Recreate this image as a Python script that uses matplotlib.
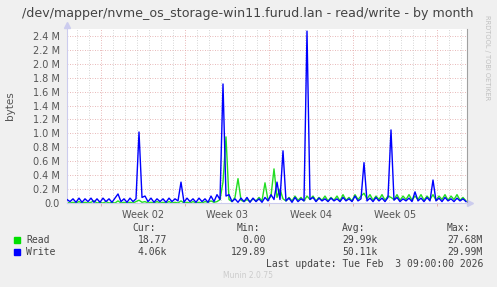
import matplotlib
matplotlib.use('Agg')
import matplotlib.pyplot as plt

# one sample every 6 hours, values in M bytes
step_h = 6
write_m = [0.05, 0.02, 0.06, 0.01, 0.07, 0.01, 0.06, 0.02, 0.07, 0.01,
           0.06, 0.01, 0.07, 0.02, 0.06, 0.01, 0.07, 0.13, 0.02, 0.06,
           0.01, 0.07, 0.02, 0.06, 1.02, 0.08, 0.10, 0.02, 0.07, 0.01,
           0.06, 0.02, 0.06, 0.01, 0.07, 0.02, 0.06, 0.03, 0.30, 0.01,
           0.07, 0.02, 0.06, 0.01, 0.07, 0.02, 0.06, 0.01, 0.10, 0.02,
           0.12, 0.05, 1.71, 0.10, 0.12, 0.02, 0.06, 0.01, 0.07, 0.02,
           0.08, 0.01, 0.07, 0.02, 0.06, 0.01, 0.08, 0.03, 0.12, 0.05,
           0.30, 0.05, 0.75, 0.03, 0.07, 0.01, 0.08, 0.02, 0.06, 0.03,
           2.47, 0.05, 0.08, 0.02, 0.07, 0.03, 0.06, 0.02, 0.07, 0.03,
           0.06, 0.02, 0.08, 0.03, 0.06, 0.02, 0.10, 0.03, 0.06, 0.58,
           0.03, 0.07, 0.02, 0.08, 0.03, 0.07, 0.02, 0.08, 1.05, 0.04,
           0.08, 0.02, 0.06, 0.03, 0.07, 0.02, 0.16, 0.03, 0.07, 0.02,
           0.08, 0.03, 0.33, 0.03, 0.07, 0.02, 0.08, 0.03, 0.06, 0.02,
           0.07, 0.03, 0.06, 0.02]
read_m = [0.01, 0.00, 0.01, 0.00, 0.02, 0.00, 0.01, 0.00, 0.01, 0.03,
          0.00, 0.01, 0.00, 0.02, 0.00, 0.01, 0.00, 0.03, 0.00, 0.01,
          0.00, 0.01, 0.00, 0.02, 0.04, 0.01, 0.02, 0.00, 0.01, 0.00,
          0.02, 0.00, 0.01, 0.00, 0.02, 0.00, 0.01, 0.00, 0.03, 0.00,
          0.01, 0.00, 0.02, 0.00, 0.01, 0.00, 0.02, 0.01, 0.03, 0.01,
          0.02, 0.05, 0.30, 0.95, 0.05, 0.02, 0.08, 0.35, 0.04, 0.02,
          0.05, 0.02, 0.06, 0.03, 0.08, 0.03, 0.29, 0.04, 0.10, 0.49,
          0.08, 0.20, 0.06, 0.03, 0.08, 0.03, 0.10, 0.04, 0.08, 0.03,
          0.10, 0.05, 0.10, 0.03, 0.08, 0.04, 0.10, 0.03, 0.08, 0.04,
          0.10, 0.03, 0.12, 0.04, 0.08, 0.03, 0.12, 0.05, 0.10, 0.14,
          0.06, 0.12, 0.04, 0.10, 0.05, 0.12, 0.04, 0.10, 0.08, 0.05,
          0.12, 0.04, 0.10, 0.05, 0.12, 0.04, 0.10, 0.05, 0.12, 0.04,
          0.10, 0.05, 0.12, 0.04, 0.10, 0.05, 0.12, 0.04, 0.10, 0.05,
          0.12, 0.04, 0.08, 0.03]
hours = [i * step_h for i in range(len(write_m))]

week_bounds = [68, 236, 404, 572, 740]
week_labels = ['Week 02', 'Week 03', 'Week 04', 'Week 05']
y_ticks = [0.0, 0.2, 0.4, 0.6, 0.8, 1.0, 1.2, 1.4, 1.6, 1.8, 2.0, 2.2, 2.4]

legend_rows = [('Read', '#00e000', '18.77', '0.00', '29.99k', '27.68M'),
               ('Write', '#0000ff', '4.06k', '129.89', '50.11k', '29.99M')]

W, H = 497, 287
fig = plt.figure(figsize=(W / 100, H / 100), dpi=100, facecolor='#f0f0f0')
ax = fig.add_axes([67 / W, 1 - 203 / H, 400 / W, 174 / H])
ax.set_facecolor('white')

def fx(x):
    return x / W

def fy(y):
    return 1 - y / H

ax.set_xlim(0, 800)
ax.set_ylim(0, 2.5)

# grid
day_lines = [h for h in range(20, 800, 24) if h not in week_bounds]
for d in day_lines:
    ax.axvline(d, color='#c8c8c8', lw=0.6, ls=(0, (1, 2)), zorder=0)
for w in week_bounds:
    ax.axvline(w, color='#e0a0a0', lw=0.6, ls=(0, (1, 2)), zorder=0)
for t in y_ticks[1:]:
    ax.axhline(t, color='#e0a0a0', lw=0.6, ls=(0, (1, 2)), zorder=0)

ax.plot(hours, read_m, color='#22dd22', lw=1.0, zorder=2)
ax.plot(hours, write_m, color='#0000ff', lw=1.0, zorder=3)

ax.set_yticks(y_ticks)
ax.set_yticklabels(['0.0'] + ['%.1f M' % t for t in y_ticks[1:]])
ax.set_xticks([(week_bounds[i] + week_bounds[i + 1]) / 2 for i in range(4)])
ax.set_xticklabels(week_labels)
ax.set_xticks(week_bounds, minor=True)
ax.tick_params(axis='both', which='major', length=0, labelsize=7,
               labelcolor='#555555', pad=5)
ax.tick_params(axis='x', which='minor', length=2, color='#e0a0a0')

ax.spines['top'].set_visible(False)
ax.spines['left'].set_color('#ccccee')
ax.spines['bottom'].set_color('#ccccee')
ax.spines['right'].set_color('#a0a0a0')
for sp in ax.spines.values():
    sp.set_linewidth(0.8)
ax.plot([0], [1.025], marker='^', ms=4, color='#ccccee', transform=ax.transAxes, clip_on=False)
ax.plot([1.008], [0], marker='>', ms=4, color='#ccccee', transform=ax.transAxes, clip_on=False)

fig.text(fx(248), fy(13), '/dev/mapper/nvme_os_storage-win11.furud.lan - read/write - by month',
         ha='center', va='center', fontsize=9.1, color='#444444')
fig.text(fx(10), fy(106), 'bytes', rotation=90, ha='center', va='center',
         fontsize=7.5, color='#555555')
fig.text(fx(487), fy(58), 'RRDTOOL / TOBI OETIKER', rotation=270, ha='center', va='center',
         fontsize=4.8, color='#c0c0c0')

mono = dict(family='DejaVu Sans Mono', fontsize=7, color='#444444', va='center')
fig.text(fx(132), fy(228), 'Cur:', **mono)
fig.text(fx(237), fy(228), 'Min:', **mono)
fig.text(fx(342), fy(228), 'Avg:', **mono)
fig.text(fx(447), fy(228), 'Max:', **mono)
for k, (name, col, cur, mn, avg, mx) in enumerate(legend_rows):
    yy = 240 + k * 12
    fig.patches.append(plt.Rectangle((fx(14), fy(yy + 3)), 6 / W, 6 / H, color=col,
                                     transform=fig.transFigure, figure=fig))
    fig.text(fx(26), fy(yy), name, **mono)
    fig.text(fx(167), fy(yy), cur, ha='right', **mono)
    fig.text(fx(266), fy(yy), mn, ha='right', **mono)
    fig.text(fx(378), fy(yy), avg, ha='right', **mono)
    fig.text(fx(483), fy(yy), mx, ha='right', **mono)
fig.text(fx(483), fy(264), 'Last update: Tue Feb  3 09:00:00 2026', ha='right', **mono)
fig.text(fx(248), fy(276), 'Munin 2.0.75', ha='center', va='center', fontsize=5.5, color='#cccccc')

fig.savefig('out.png', dpi=100, facecolor=fig.get_facecolor())
